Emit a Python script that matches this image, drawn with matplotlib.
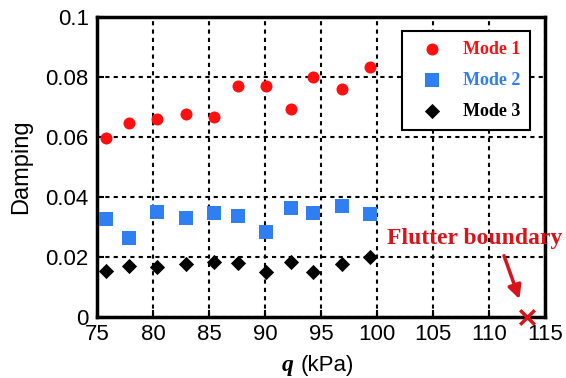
import matplotlib
matplotlib.use("Agg")
import matplotlib.pyplot as plt

# data
q = [75.8, 77.9, 80.4, 82.9, 85.4, 87.6, 90.1, 92.3, 94.3, 96.9, 99.4]
mode1 = [0.0597, 0.0647, 0.0658, 0.0677, 0.0667, 0.0770, 0.0770, 0.0693, 0.0799, 0.0760, 0.0831]
mode2 = [0.0325, 0.0263, 0.0348, 0.0330, 0.0345, 0.0336, 0.0283, 0.0361, 0.0345, 0.0369, 0.0342]
mode3 = [0.0153, 0.0169, 0.0165, 0.0175, 0.0182, 0.0180, 0.0150, 0.0183, 0.0149, 0.0176, 0.0200]
flutter_q = 113.4
flutter_d = 0.0
xticks = [75, 80, 85, 90, 95, 100, 105, 110, 115]
yticks = [0, 0.02, 0.04, 0.06, 0.08, 0.1]
yticklabels = ["0", "0.02", "0.04", "0.06", "0.08", "0.1"]

red = "#ff1010"
blue = "#2f7ff2"
dred = "#d8141a"

fig = plt.figure(figsize=(5.66, 3.78), dpi=100)
ax = fig.add_axes([0.1714, 0.1622, 0.7916, 0.7936])

ax.scatter(q, mode1, s=75, marker="o", color=red, label="Mode 1", zorder=3, linewidths=0)
ax.scatter(q, mode2, s=90, marker="s", color=blue, label="Mode 2", zorder=3, linewidths=0)
ax.scatter(q, mode3, s=60, marker="D", color="black", label="Mode 3", zorder=3, linewidths=0)
ax.scatter([flutter_q], [flutter_d], s=110, marker="x", color=dred, linewidths=2.5,
           zorder=4, clip_on=False)

ax.set_xlim(75, 115)
ax.set_ylim(0, 0.1)
ax.set_xticks(xticks)
ax.set_yticks(yticks)
ax.set_yticklabels(yticklabels)
ax.grid(True, color="black", linestyle=(0, (2, 2)), linewidth=1.5)
ax.set_axisbelow(True)
ax.tick_params(direction="in", length=5, width=1.5, labelsize=16)
ax.tick_params(axis="x", pad=5.5)
ax.tick_params(axis="y", pad=6)
for lab in ax.get_xticklabels() + ax.get_yticklabels():
    lab.set_family("Liberation Sans")
for s in ax.spines.values():
    s.set_linewidth(2.5)

ax.set_ylabel("Damping", fontsize=17, family="Liberation Sans")
ax.yaxis.set_label_coords(-0.145, 0.5)

# x label: bold italic serif q + sans units
fig.text(282 / 566, 1 - 371 / 378, "q", fontsize=17, family="Liberation Serif",
         style="italic", weight="bold", ha="left", va="baseline")
fig.text(301 / 566, 1 - 371 / 378, "(kPa)", fontsize=16, family="Liberation Sans",
         ha="left", va="baseline")

leg = ax.legend(loc="upper right", bbox_to_anchor=(0.9665, 0.953), borderaxespad=0,
                fancybox=False, edgecolor="black", framealpha=1,
                prop={"family": "Liberation Serif", "weight": "bold", "size": 13},
                handlelength=2.2, handletextpad=0.6, borderpad=0.55,
                labelspacing=0.78, markerscale=1.0)
leg.get_frame().set_linewidth(1.5)
for txt, c in zip(leg.get_texts(), [red, blue, "black"]):
    txt.set_color(c)

ax.text(108.7, 0.0262, "Flutter boundary", color=dred, fontsize=17,
        family="Liberation Serif", weight="bold", ha="center", va="center")
ax.annotate("", xy=(112.8, 0.005), xytext=(111.25, 0.0212),
            arrowprops=dict(arrowstyle="-|>", color=dred, lw=2.5, mutation_scale=20))

fig.savefig("out.png", dpi=100)
